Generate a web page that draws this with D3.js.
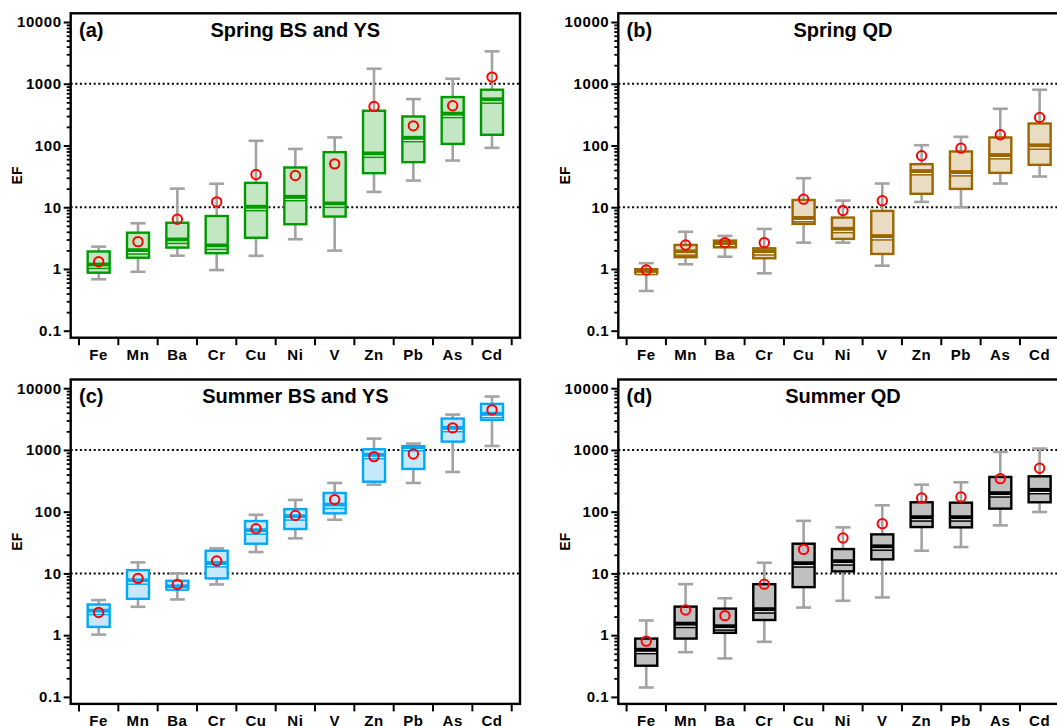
<!DOCTYPE html>
<html><head><meta charset="utf-8">
<script src="https://cdn.jsdelivr.net/npm/d3@7"></script>
<style>body{margin:0;background:#fff}svg{display:block}</style>
</head><body><svg id="chart" width="1057" height="726"></svg>
<script>
// ---------------- data ----------------
const elements = ["Fe","Mn","Ba","Cr","Cu","Ni","V","Zn","Pb","As","Cd"];
const yTickValues = [0.1, 1, 10, 100, 1000, 10000];
const yTickLabels = ["0.1", "1", "10", "100", "1000", "10000"];
const refLines = [10, 1000];
const panelTags = ["(a)", "(b)", "(c)", "(d)"];
const panelTitles = ["Spring BS and YS", "Spring QD", "Summer BS and YS", "Summer QD"];
const yLabel = "EF";

// (a) Spring BS and YS
const springBsYsLow    = [0.68, 0.90, 1.64, 0.96, 1.63, 3.03, 1.98, 17.7, 27, 57, 91.6];
const springBsYsQ1     = [0.87, 1.52, 2.22, 1.80, 3.2, 5.3, 7.06, 35.6, 53.7, 106, 149];
const springBsYsMedian = [1.16, 1.98, 2.95, 2.36, 10, 14.5, 11.3, 73, 131, 322, 550];
const springBsYsQ3     = [1.92, 3.87, 5.6, 7.2, 24.8, 44, 78, 365, 295, 608, 800];
const springBsYsHigh   = [2.3, 5.5, 20, 24, 119, 88, 135, 1750, 564, 1203, 3343];
const springBsYsMean   = [1.31, 2.77, 6.4, 12.2, 33.8, 32.6, 50.4, 429, 208, 440, 1282];

// (b) Spring QD
const springQdLow    = [0.44, 1.19, 1.58, 0.85, 2.67, 2.67, 1.13, 12.2, 10, 24.2, 31.4];
const springQdQ1     = [0.85, 1.55, 2.24, 1.49, 5.37, 3.07, 1.75, 16.5, 19.8, 36, 48.6];
const springQdMedian = [0.92, 1.9, 2.6, 1.91, 6.6, 4.4, 3.35, 37.9, 36.5, 68.9, 98.8];
const springQdQ3     = [0.99, 2.45, 2.88, 2.16, 13.1, 6.8, 8.72, 49.8, 80, 135, 227];
const springQdHigh   = [1.24, 4.0, 3.43, 4.45, 29.5, 12.8, 24.2, 101, 138, 393, 800];
const springQdMean   = [0.96, 2.45, 2.67, 2.67, 13.5, 8.83, 12.7, 68, 90.5, 149, 284];

// (c) Summer BS and YS
const summerBsYsLow    = [1.02, 2.88, 3.79, 6.63, 22.2, 37, 74, 274, 292, 440, 1161];
const summerBsYsQ1     = [1.36, 3.88, 5.57, 8.3, 30.3, 52.4, 94, 306, 492, 1365, 3064];
const summerBsYsMedian = [2.45, 7.6, 6.08, 14.5, 49.2, 83, 128, 820, 1100, 2245, 3788];
const summerBsYsQ3     = [3.14, 11.3, 7.6, 23.3, 70.6, 110, 201, 1025, 1148, 3221, 5574];
const summerBsYsHigh   = [3.7, 15.1, 10, 25.4, 89, 155, 292, 1527, 1267, 3741, 7325];
const summerBsYsMean   = [2.33, 8.3, 6.63, 15.9, 53, 87, 157, 780, 861, 2275, 4455];

// (d) Summer QD
const summerQdLow    = [0.142, 0.53, 0.42, 0.78, 2.8, 3.6, 4.08, 23.3, 26.7, 60, 98.8];
const summerQdQ1     = [0.32, 0.88, 1.09, 1.76, 6.0, 10.8, 16.9, 56.4, 55.7, 112, 142];
const summerQdMedian = [0.57, 1.51, 1.37, 2.59, 14.4, 15.5, 27, 80, 80, 196, 222];
const summerQdQ3     = [0.88, 2.9, 2.69, 6.7, 30.3, 24.8, 42.9, 142, 140, 365, 374];
const summerQdHigh   = [1.73, 6.7, 3.96, 14.9, 71, 55.7, 127, 274, 299, 929, 1052];
const summerQdMean   = [0.80, 2.56, 2.07, 6.7, 24.5, 37.4, 63.9, 167, 173, 343, 504];

// ---------------- drawing ----------------
const FONT = "'Liberation Sans', Arial, Helvetica, sans-serif";
const svg = d3.select("#chart");

const panels = [
  {tag: panelTags[0], title: panelTitles[0], dx: 0, dy: 0, stroke: "#009900", fill: "#c3e7c3",
   low: springBsYsLow, q1: springBsYsQ1, med: springBsYsMedian, q3: springBsYsQ3, high: springBsYsHigh, mean: springBsYsMean},
  {tag: panelTags[1], title: panelTitles[1], dx: 547.6, dy: 0, stroke: "#9a6600", fill: "#eadcc2",
   low: springQdLow, q1: springQdQ1, med: springQdMedian, q3: springQdQ3, high: springQdHigh, mean: springQdMean},
  {tag: panelTags[2], title: panelTitles[2], dx: 0, dy: 366.2, stroke: "#00a8f8", fill: "#c5e8fb",
   low: summerBsYsLow, q1: summerBsYsQ1, med: summerBsYsMedian, q3: summerBsYsQ3, high: summerBsYsHigh, mean: summerBsYsMean},
  {tag: panelTags[3], title: panelTitles[3], dx: 547.6, dy: 366.2, stroke: "#000000", fill: "#c0c0c0",
   low: summerQdLow, q1: summerQdQ1, med: summerQdMedian, q3: summerQdQ3, high: summerQdHigh, mean: summerQdMean}
];

const frame = {l: 70.7, r: 520, t: 13.3, b: 337.7};
const x = d3.scaleBand().domain(elements).range([79, 511.7]).paddingInner(0).paddingOuter(0);
const y = d3.scaleLog().domain([0.1, 10000]).range([330.7, 22]);
const bw = x.bandwidth();
const boxW = 22, capW = 15;

const minorTicks = [];
for (let e = -1; e < 4; e++) for (let k = 2; k <= 9; k++) minorTicks.push(k * Math.pow(10, e));

panels.forEach(p => {
  const g = svg.append("g").attr("transform", `translate(${p.dx},${p.dy})`);

  // reference dotted lines
  g.selectAll("line.ref").data(refLines).join("line")
    .attr("x1", frame.l).attr("x2", frame.r)
    .attr("y1", d => y(d)).attr("y2", d => y(d))
    .attr("stroke", "#000").attr("stroke-width", 2).attr("stroke-dasharray", "2,2.6");

  // y axis minor ticks
  const yMinor = g.append("g").attr("transform", `translate(${frame.l},0)`)
    .call(d3.axisLeft(y).tickValues(minorTicks).tickSize(4).tickFormat(""));
  yMinor.select(".domain").remove();
  yMinor.selectAll("line").attr("stroke", "#000").attr("stroke-width", 1.8);

  // y axis major ticks
  const yMajor = g.append("g").attr("transform", `translate(${frame.l},0)`)
    .call(d3.axisLeft(y).tickValues(yTickValues).tickSize(7).tickPadding(2)
      .tickFormat((d, i) => yTickLabels[i]));
  yMajor.select(".domain").remove();
  yMajor.selectAll("line").attr("stroke", "#000").attr("stroke-width", 2);
  yMajor.selectAll("text").attr("fill", "#000").style("font-family", FONT)
    .style("font-weight", "bold").style("font-size", "15px").style("letter-spacing", "0.6px");

  // x axis: boundary ticks + centred labels
  const bounds = elements.map(e => x(e)).concat([x.range()[1]]);
  g.selectAll("line.xt").data(bounds).join("line")
    .attr("x1", d => d).attr("x2", d => d)
    .attr("y1", frame.b).attr("y2", frame.b + 7.5)
    .attr("stroke", "#000").attr("stroke-width", 2);
  g.selectAll("text.xl").data(elements).join("text")
    .attr("x", d => x(d) + bw / 2).attr("y", frame.b + 22)
    .attr("text-anchor", "middle").style("font-family", FONT)
    .style("font-weight", "bold").style("font-size", "15px").style("letter-spacing", "0.6px")
    .text(d => d);

  // y label
  g.append("text")
    .attr("transform", `translate(22,${(frame.t + frame.b) / 2}) rotate(-90)`)
    .attr("text-anchor", "middle").style("font-family", FONT)
    .style("font-weight", "bold").style("font-size", "14px").text(yLabel);

  const cx = i => x(elements[i]) + bw / 2;

  // whiskers
  elements.forEach((e, i) => {
    const wg = g.append("g").attr("stroke", "#a3a3a3").attr("stroke-width", 2.6);
    wg.append("line").attr("x1", cx(i)).attr("x2", cx(i)).attr("y1", y(p.high[i])).attr("y2", y(p.low[i]));
    wg.append("line").attr("x1", cx(i) - capW / 2).attr("x2", cx(i) + capW / 2).attr("y1", y(p.high[i])).attr("y2", y(p.high[i]));
    wg.append("line").attr("x1", cx(i) - capW / 2).attr("x2", cx(i) + capW / 2).attr("y1", y(p.low[i])).attr("y2", y(p.low[i]));
  });

  // boxes
  elements.forEach((e, i) => {
    const top = y(p.q3[i]), bot = y(p.q1[i]), my = y(p.med[i]);
    g.append("rect").attr("x", cx(i) - boxW / 2).attr("y", top)
      .attr("width", boxW).attr("height", Math.max(0.5, bot - top))
      .attr("fill", p.fill).attr("stroke", p.stroke).attr("stroke-width", 2.4);
    g.append("line").attr("x1", cx(i) - boxW / 2).attr("x2", cx(i) + boxW / 2)
      .attr("y1", my - 0.4).attr("y2", my - 0.4).attr("stroke", p.stroke).attr("stroke-width", 4);
    g.append("line").attr("x1", cx(i) - boxW / 2 + 1.2).attr("x2", cx(i) + boxW / 2 - 1.2)
      .attr("y1", my + 2.2).attr("y2", my + 2.2).attr("stroke", "#ffffff").attr("stroke-width", 1);
    g.append("line").attr("x1", cx(i) - boxW / 2).attr("x2", cx(i) + boxW / 2)
      .attr("y1", my + 3.4).attr("y2", my + 3.4).attr("stroke", p.stroke).attr("stroke-width", 1.5);
  });

  // means
  g.selectAll("circle.mean").data(p.mean).join("circle")
    .attr("cx", (d, i) => cx(i)).attr("cy", d => y(d)).attr("r", 4.7)
    .attr("fill", "none").attr("stroke", "#ff0000").attr("stroke-width", 2);

  // frame
  g.append("rect").attr("x", frame.l).attr("y", frame.t)
    .attr("width", frame.r - frame.l).attr("height", frame.b - frame.t)
    .attr("fill", "none").attr("stroke", "#000").attr("stroke-width", 2.4);

  // tag and title
  g.append("text").attr("x", 79).attr("y", 37).style("font-family", FONT)
    .style("font-weight", "bold").style("font-size", "20px").text(p.tag);
  g.append("text").attr("x", (frame.l + frame.r) / 2).attr("y", 37).attr("text-anchor", "middle")
    .style("font-family", FONT).style("font-weight", "bold").style("font-size", "20px").text(p.title);
});
</script>
</body></html>
